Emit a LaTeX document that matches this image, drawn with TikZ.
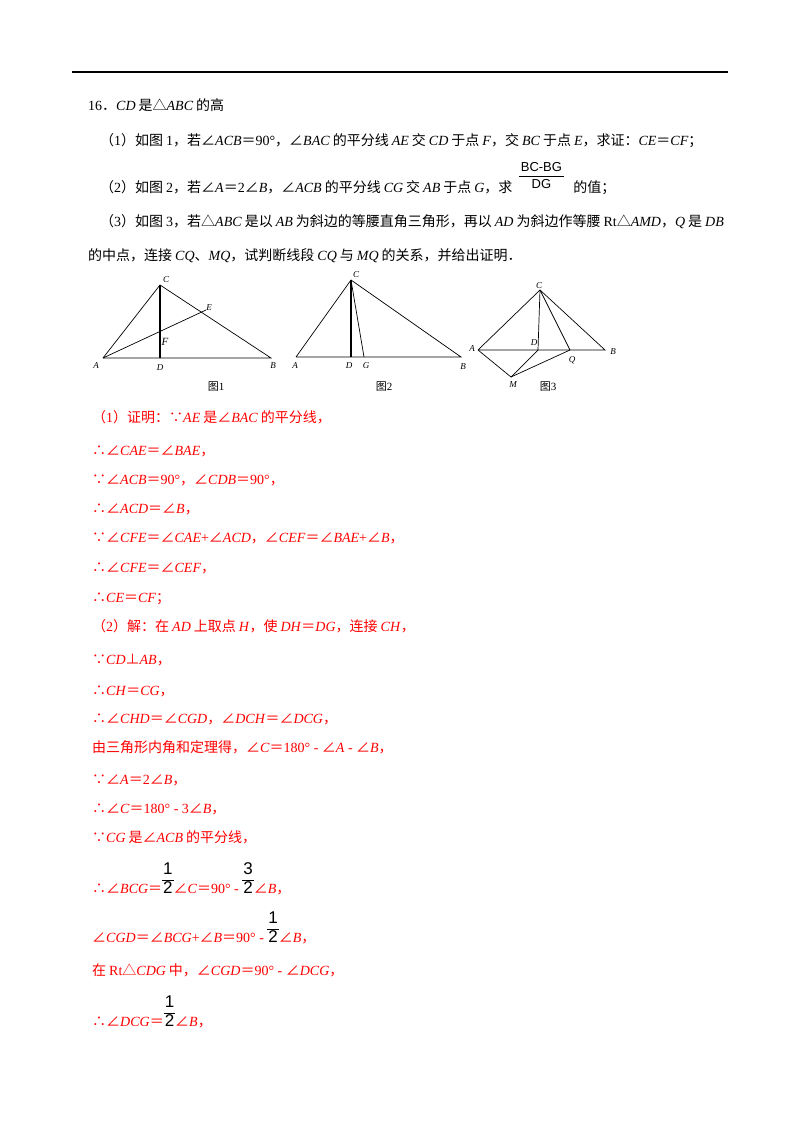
\documentclass[tikz,border=0pt]{standalone}
\usepackage{fontspec}
\setmainfont{Liberation Serif}
\newfontfamily\cjk{Noto Sans CJK SC}
\newfontfamily\fsans{Liberation Sans}
\newXeTeXintercharclass\cjkc
\newXeTeXintercharclass\cjkp
\def\setcls#1#2#3{\count255=#1 \loop\XeTeXcharclass\count255=#3\ifnum\count255<#2 \advance\count255 1 \repeat}
\setcls{"4E00}{"9FFF}{\cjkc}
\setcls{"3000}{"303F}{\cjkp}
\setcls{"FF00}{"FFEF}{\cjkp}
\XeTeXcharclass"2220=\cjkp \XeTeXcharclass"25B3=\cjkp \XeTeXcharclass"2235=\cjkp
\XeTeXcharclass"2234=\cjkp \XeTeXcharclass"22A5=\cjkp
\XeTeXinterchartokenstate=1
\def\cjsp{\hspace{3pt}}
\XeTeXinterchartoks 0 \cjkc={\cjsp\begingroup\cjk}
\XeTeXinterchartoks 4095 \cjkc={\cjsp\begingroup\cjk}
\XeTeXinterchartoks \cjkc 0={\endgroup\cjsp}
\XeTeXinterchartoks \cjkc 4095={\endgroup\cjsp}
\XeTeXinterchartoks 0 \cjkp={\begingroup\cjk}
\XeTeXinterchartoks 4095 \cjkp={\begingroup\cjk}
\XeTeXinterchartoks \cjkp 0={\endgroup}
\XeTeXinterchartoks \cjkp 4095={\endgroup}
\newcommand\I[1]{\textit{#1}}
\newcommand\nosp[1]{{\XeTeXinterchartokenstate=0 \cjk #1}}
\newcommand\fr[2]{{\color{black}\fsans\fontsize{17}{18}\selectfont\renewcommand\arraystretch{1.0}\setlength\arrayrulewidth{0.6pt}\setlength\tabcolsep{1pt}\begin{tabular}[b]{c}#1\\\hline #2\end{tabular}}}
\begin{document}
\begin{tikzpicture}[x=1pt,y=-1pt,
  tx/.style={anchor=base west,inner sep=0pt,font=\fontsize{14}{16}\selectfont},
  rt/.style={tx,text=red},
  lab/.style={inner sep=0pt,font=\fontsize{9}{10}\selectfont\itshape},
  figcap/.style={inner sep=0pt,font=\fontsize{11}{12}\selectfont},
  ln/.style={line width=0.7pt}]
\useasboundingbox (0,0) rectangle (800,1132);
\fill[white] (0,0) rectangle (800,1132);
\draw[line width=1.8pt] (72,72) -- (728,72);
\node[tx] (t1) at (88,110) {16．\I{CD}是△\I{ABC}的高};
\node[tx] (t2) at (100,145) {（1）如图1，若∠\I{ACB}＝90°，∠\I{BAC}的平分线\I{AE}交\I{CD}于点\I{F}，交\I{BC}于点\I{E}，求证：\I{CE}＝\I{CF}；};
\node[tx] (t3) at (100,192) {（2）如图2，若∠\I{A}＝2∠\I{B}，∠\I{ACB}的平分线\I{CG}交\I{AB}于点\I{G}，求};
\node[tx,anchor=base west] (t3f) at ([xshift=6pt]t3.base east) {{\fsans\fontsize{13}{14}\selectfont\setlength\tabcolsep{2pt}\renewcommand\arraystretch{1.1}\setlength\arrayrulewidth{0.9pt}\raisebox{4pt}{\begin{tabular}[b]{c}BC-BG\\\hline DG\end{tabular}}}};
\node[tx] (t3b) at ([xshift=6pt]t3f.base east) {的值；};
\node[tx] (t4) at (100,226) {（3）如图3，若△\I{ABC}是以\I{AB}为斜边的等腰直角三角形，再以\I{AD}为斜边作等腰Rt△\I{AMD}，\I{Q}是\I{DB}};
\node[tx] (t5) at (85,260) {的中点，连接\I{CQ}、\I{MQ}，试判断线段\I{CQ}与\I{MQ}的关系，并给出证明．};
% figure 1
\coordinate (A1) at (103,358); \coordinate (D1) at (160,358); \coordinate (B1) at (271,358);
\coordinate (C1) at (160,285); \coordinate (E1) at (206,310); \coordinate (F1) at (160,332);
\draw[ln] (A1) -- (B1) -- (C1) -- (A1); \draw[ln] (A1) -- (E1); \draw[line width=1.1pt] (C1) -- (D1);
\node[lab] (lC1) at (166,280) {C}; \node[lab] (lE1) at (209,308) {E}; \node[lab,font=\fontsize{11}{12}\selectfont\itshape] (lF1) at (165,342) {F};
\node[lab] (lA1) at (96,366) {A}; \node[lab] (lD1) at (160,368) {D}; \node[lab] (lB1) at (273,366) {B};
\node[figcap] (c1) at (216,387) {\nosp{图}1};
% figure 2
\coordinate (A2) at (296,357); \coordinate (D2) at (351,357); \coordinate (G2) at (364,357);
\coordinate (B2) at (461,357); \coordinate (C2) at (351,280);
\draw[ln] (A2) -- (B2) -- (C2) -- (A2); \draw[ln] (C2) -- (G2); \draw[line width=1.1pt] (C2) -- (D2);
\node[lab] (lC2) at (356,275) {C}; \node[lab] (lA2) at (295,366) {A}; \node[lab] (lD2) at (349,366) {D};
\node[lab] (lG2) at (366,366) {G}; \node[lab] (lB2) at (463,367) {B};
\node[figcap] (c2) at (384,387) {\nosp{图}2};
% figure 3
\coordinate (C3) at (540,290); \coordinate (A3) at (478,350); \coordinate (D3) at (538,350);
\coordinate (Q3) at (570,350); \coordinate (B3) at (605,350); \coordinate (M3) at (511,377);
\draw[ln] (A3) -- (B3) -- (C3) -- (A3); \draw[ln] (C3) -- (D3); \draw[ln] (C3) -- (Q3);
\draw[ln] (A3) -- (M3) -- (D3); \draw[ln] (M3) -- (Q3);
\node[lab] (lC3) at (539,286) {C}; \node[lab] (lA3) at (472,349) {A}; \node[lab] (lB3) at (613,352) {B};
\node[lab] (lD3) at (534,343) {D}; \node[lab] (lQ3) at (572,360) {Q}; \node[lab] (lM3) at (513,385) {M};
\node[figcap] (c3) at (548,387) {\nosp{图}3};
% solution
\node[rt] (r1) at (92,422) {（1）证明：∵\I{AE}是∠\I{BAC}的平分线，};
\node[rt] (r2) at (92,455) {∴∠\I{CAE}＝∠\I{BAE}，};
\node[rt] (r3) at (92,484) {∵∠\I{ACB}＝90°，∠\I{CDB}＝90°，};
\node[rt] (r4) at (92,513) {∴∠\I{ACD}＝∠\I{B}，};
\node[rt] (r5) at (92,542) {∵∠\I{CFE}＝∠\I{CAE}+∠\I{ACD}，∠\I{CEF}＝∠\I{BAE}+∠\I{B}，};
\node[rt] (r6) at (92,572) {∴∠\I{CFE}＝∠\I{CEF}，};
\node[rt] (r7) at (92,602) {∴\I{CE}＝\I{CF}；};
\node[rt] (r8) at (92,631) {（2）解：在\I{AD}上取点\I{H}，使\I{DH}＝\I{DG}，连接\I{CH}，};
\node[rt] (r9) at (92,664) {∵\I{CD}⊥\I{AB}，};
\node[rt] (r10) at (92,695) {∴\I{CH}＝\I{CG}，};
\node[rt] (r11) at (92,723) {∴∠\I{CHD}＝∠\I{CGD}，∠\I{DCH}＝∠\I{DCG}，};
\node[rt] (r12) at (89,752) {由三角形内角和定理得，∠\I{C}＝180° - ∠\I{A} - ∠\I{B}，};
\node[rt] (r13) at (92,784) {∵∠\I{A}＝2∠\I{B}，};
\node[rt] (r14) at (92,813) {∴∠\I{C}＝180° - 3∠\I{B}，};
\node[rt] (r15) at (92,842) {∵\I{CG}是∠\I{ACB}的平分线，};
\node[rt] (r16) at (92,893) {∴∠\I{BCG}＝\fr{1}{2}∠\I{C}＝90° - \fr{3}{2}∠\I{B}，};
\node[rt] (r17) at (92,942) {∠\I{CGD}＝∠\I{BCG}+∠\I{B}＝90° - \fr{1}{2}∠\I{B}，};
\node[rt] (r18) at (89,975) {在Rt△\I{CDG}中，∠\I{CGD}＝90° - ∠\I{DCG}，};
\node[rt] (r19) at (92,1026) {∴∠\I{DCG}＝\fr{1}{2}∠\I{B}，};
\end{tikzpicture}
\end{document}
